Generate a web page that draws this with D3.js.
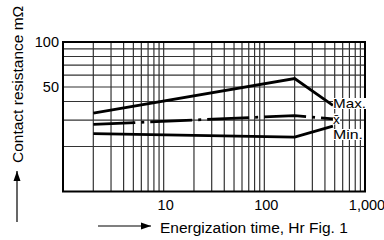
<!DOCTYPE html>
<html>
<head>
<meta charset="utf-8">
<script src="https://cdn.jsdelivr.net/npm/d3@7"></script>
<style>
  body { margin: 0; background: #fff; }
  text { font-family: "Liberation Sans", Arial, sans-serif; fill: #000; }
</style>
</head>
<body>
<div id="chart"></div>
<script>
// data (hours, mΩ)
const hours = [2, 200, 480];
const maxValues = [33.4, 57, 37.7];
const meanValues = [28.1, 32.2, 30.6];
const minValues = [24.4, 23.1, 27.4];
const xTickLabels = ["10", "100", "1,000"];
const xTickValues = [10, 100, 1000];
const yTickValues = [50, 100];
const seriesLabels = ["Max.", "x\u0304", "Min."];

const width = 384, height = 240;
const plot = { left: 63, right: 365, top: 42, bottom: 191.5 };

const svg = d3.select("#chart").append("svg")
  .attr("width", width)
  .attr("height", height);

const x = d3.scaleLog().domain([1, 1000]).range([plot.left, plot.right]);
const y = d3.scaleLog().domain([10, 100]).range([plot.bottom, plot.top]);

// grid lines
const xGrid = [];
[1, 10, 100].forEach(d => { for (let k = 2; k <= 9; k++) xGrid.push(d * k); });
xGrid.push(10, 100);
const yGrid = [20, 30, 40, 50, 60, 70, 80, 90];

const grid = svg.append("g").attr("stroke", "#333").attr("stroke-width", 1.2);
grid.selectAll(".vx").data(xGrid).join("line")
  .attr("x1", d => x(d)).attr("x2", d => x(d))
  .attr("y1", plot.top).attr("y2", plot.bottom);
grid.selectAll(".hy").data(yGrid).join("line")
  .attr("x1", plot.left).attr("x2", plot.right)
  .attr("y1", d => y(d)).attr("y2", d => y(d));

svg.append("rect")
  .attr("x", plot.left).attr("y", plot.top)
  .attr("width", plot.right - plot.left).attr("height", plot.bottom - plot.top)
  .attr("fill", "none").attr("stroke", "#000").attr("stroke-width", 2);

// tick labels
svg.append("g").selectAll("text").data(yTickValues).join("text")
  .attr("x", plot.left - 4).attr("y", d => y(d) + 5)
  .attr("text-anchor", "end").attr("font-size", 14.5)
  .text(d => d);

svg.append("g").selectAll("text").data(xTickValues).join("text")
  .attr("x", d => x(d) + 2).attr("y", 210)
  .attr("text-anchor", "middle").attr("font-size", 14.5)
  .text((d, i) => xTickLabels[i]);

// curves
const line = d3.line().x((d, i) => x(hours[i])).y(d => y(d));
const series = [
  { values: maxValues, dash: null },
  { values: meanValues, dash: "42,6,3,6" },
  { values: minValues, dash: null }
];
svg.append("g").selectAll("path").data(series).join("path")
  .attr("d", d => line(d.values))
  .attr("fill", "none")
  .attr("stroke", "#000")
  .attr("stroke-width", 2.8)
  .attr("stroke-dasharray", d => d.dash);

// series labels with white background
const labelY = [108, 123.5, 139];
const lab = svg.append("g").selectAll("g").data(seriesLabels).join("g");
lab.append("rect").attr("fill", "#fff");
lab.append("text")
  .attr("x", 333).attr("y", (d, i) => labelY[i])
  .attr("font-size", 13.5)
  .attr("textLength", (d, i) => i === 1 ? null : (i === 0 ? 33 : 30))
  .attr("lengthAdjust", "spacingAndGlyphs")
  .text(d => d);
lab.each(function () {
  const g = d3.select(this);
  const b = g.select("text").node().getBBox();
  g.select("rect").attr("x", b.x).attr("y", b.y + 2)
    .attr("width", b.width).attr("height", b.height - 4);
});

// axis titles with arrows
svg.append("defs").append("marker")
  .attr("id", "arrow").attr("viewBox", "0 0 10 10")
  .attr("refX", 10).attr("refY", 5)
  .attr("markerWidth", 10).attr("markerHeight", 10)
  .attr("markerUnits", "userSpaceOnUse")
  .attr("orient", "auto")
  .append("path").attr("d", "M0,1.5L10,5L0,8.5Z").attr("fill", "#000");

svg.append("line")
  .attr("x1", 17).attr("y1", 222).attr("x2", 17).attr("y2", 171)
  .attr("stroke", "#000").attr("stroke-width", 1.2)
  .attr("marker-end", "url(#arrow)");
svg.append("text")
  .attr("transform", "translate(22.5,163) rotate(-90)")
  .attr("font-size", 15.5)
  .text("Contact resistance m\u03A9");

svg.append("line")
  .attr("x1", 98).attr("y1", 226).attr("x2", 151).attr("y2", 226)
  .attr("stroke", "#000").attr("stroke-width", 1.2)
  .attr("marker-end", "url(#arrow)");
svg.append("text")
  .attr("x", 160).attr("y", 232.5)
  .attr("font-size", 15.5)
  .text("Energization time, Hr Fig. 1");
</script>
</body>
</html>
